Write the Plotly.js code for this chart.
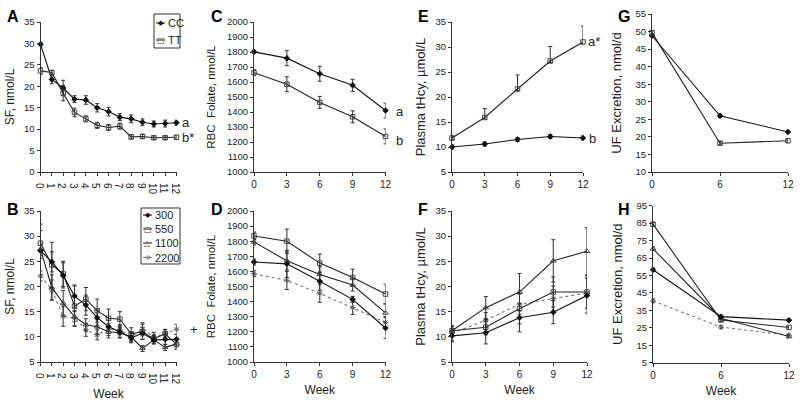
<!DOCTYPE html>
<html><head><meta charset="utf-8">
<script src="https://cdn.plot.ly/plotly-3.0.1.min.js"></script>
<style>html,body{margin:0;padding:0;background:#fff}#chart{width:800px;height:402px}</style>
</head><body><div id="chart"></div>
<script>
// ---------- data ----------
const weeksAB = [0,1,2,3,4,5,6,7,8,9,10,11,12];
const weeksCF = [0,3,6,9,12];
const weeksGH = [0,6,12];

// Panel A: SF by genotype
const A_CC = [29.8,21.6,19.6,17.0,16.8,15.0,14.1,12.8,12.4,11.6,11.2,11.3,11.5];
const A_CC_err = [0.5,1.0,1.8,0.8,1.0,1.0,1.0,0.8,0.9,0.8,0.7,0.8,0.6];
const A_TT = [23.6,23.2,18.4,13.9,12.4,10.9,10.4,10.7,8.2,8.3,8.0,8.0,8.1];
const A_TT_err = [0.8,0.5,1.8,1.0,0.7,0.7,0.7,0.7,0.5,0.5,0.4,0.4,0.4];

// Panel B: SF by dose
const B_300 = [27.1,24.9,22.2,18.1,16.3,13.8,12.0,11.0,9.8,10.7,9.4,9.5,9.5];
const B_300_err = [1.5,2.0,2.5,2.2,2.0,1.5,1.3,1.2,1.0,1.2,0.8,1.0,1.0];
const B_550 = [28.6,24.3,22.5,16.1,17.5,15.2,13.7,13.5,10.6,11.0,9.6,10.6,8.5];
const B_550_err = [2.5,4.5,2.5,4.0,2.3,2.3,1.8,1.5,1.2,1.5,0.8,0.8,1.0];
const B_1100 = [27.4,19.8,16.7,14.0,12.4,12.0,11.0,10.8,10.0,7.7,9.4,7.9,8.6];
const B_1100_err = [5.0,2.5,2.5,1.0,1.2,1.5,1.2,1.0,0.8,0.6,0.8,0.6,0.8];
const B_2200 = [22.1,19.3,14.1,13.7,11.4,10.4,11.5,11.4,10.0,11.5,10.0,10.6,11.5];
const B_2200_err = [1.0,2.0,2.0,1.5,1.3,1.0,1.2,1.0,1.0,1.3,0.9,0.9,1.0];

// Panel C: RBC folate by genotype
const C_CC = [1801,1759,1655,1578,1410];
const C_CC_err = [10,50,50,40,50];
const C_TT = [1662,1585,1464,1368,1237];
const C_TT_err = [20,50,40,40,50];

// Panel D: RBC folate by dose
const D_300 = [1662,1650,1535,1415,1225];
const D_300_err = [20,90,60,20,70];
const D_550 = [1835,1800,1655,1560,1450];
const D_550_err = [25,80,60,55,65];
const D_1100 = [1795,1670,1580,1510,1325];
const D_1100_err = [20,60,50,40,60];
const D_2200 = [1585,1540,1455,1360,1262];
const D_2200_err = [20,60,60,45,40];

// Panel E: plasma tHcy by genotype
const E_CC = [10.0,10.6,11.5,12.1,11.8];
const E_CC_err = [0.4,0.4,0.4,0.4,0.4];
const E_TT = [11.8,15.9,21.6,27.2,31.0];
const E_TT_errUp = [0.3,1.8,2.8,2.9,3.2];
const E_TT_errDown = [0.3,0.3,0.3,0.3,0.3];

// Panel F: plasma tHcy by dose
const F_300 = [10.2,10.8,13.8,14.9,18.2];
const F_300_err = [1.2,2.2,2.8,2.3,3.5];
const F_550 = [11.2,11.9,15.6,18.9,18.9];
const F_550_err = [1.0,1.5,3.0,3.0,3.3];
const F_1100 = [11.2,15.8,18.9,25.1,27.0];
const F_1100_err = [0.8,2.2,3.7,4.2,4.7];
const F_2200 = [10.7,13.3,16.5,17.6,18.7];
const F_2200_err = [1.5,1.5,2.0,2.5,3.0];

// Panel G: UF excretion by genotype
const G_CC = [48.8,26.0,21.4];
const G_TT = [49.7,18.2,18.9];
const G_err = [0.5,0.5,0.5];

// Panel H: UF excretion by dose
const H_300 = [58.3,31.4,29.4];
const H_550 = [84.4,29.5,25.2];
const H_1100 = [70.3,30.5,20.0];
const H_2200 = [40.4,25.4,20.8];
const H_err = [1.0,0.8,0.8];

const genoNames = ['CC','TT'];
const doseNames = ['300','550','1100','2200'];

// ---------- styles ----------
const FONT = 'Liberation Sans, Arial, sans-serif';
const styles = {
  filled: {marker:{symbol:'diamond', size:5, color:'#111', line:{width:0}}, line:{color:'#111', width:1.1, dash:'solid'}},
  square: {marker:{symbol:'square-open', size:4.5, color:'#444', line:{width:1, color:'#444'}}, line:{color:'#222', width:1.1, dash:'solid'}},
  tri:    {marker:{symbol:'triangle-up-open', size:5, color:'#444', line:{width:1, color:'#444'}}, line:{color:'#222', width:1.1, dash:'solid'}},
  ast:    {marker:{symbol:'asterisk-open', size:5, color:'#666', line:{width:1, color:'#666'}}, line:{color:'#777', width:1.1, dash:'dot'}}
};

function tr(x, y, errUp, errDown, st, idx, name){
  const s = styles[st];
  const err = {type:'data', symmetric: errDown==null, array: errUp, color:'#333', thickness:1, width:2};
  if (errDown != null) err.arrayminus = errDown;
  return {
    type:'scatter', mode:'lines+markers', x:x, y:y, name:name,
    xaxis: idx===1?'x':'x'+idx, yaxis: idx===1?'y':'y'+idx,
    marker: s.marker, line: s.line, error_y: err, cliponaxis:false, showlegend:false
  };
}

const data = [
  tr(weeksAB, A_CC, A_CC_err, null, 'filled', 1, genoNames[0]),
  tr(weeksAB, A_TT, A_TT_err, null, 'square', 1, genoNames[1]),
  tr(weeksAB, B_2200, B_2200_err, null, 'ast', 2, doseNames[3]),
  tr(weeksAB, B_1100, B_1100_err, null, 'tri', 2, doseNames[2]),
  tr(weeksAB, B_550, B_550_err, null, 'square', 2, doseNames[1]),
  tr(weeksAB, B_300, B_300_err, null, 'filled', 2, doseNames[0]),
  tr(weeksCF, C_CC, C_CC_err, null, 'filled', 3, genoNames[0]),
  tr(weeksCF, C_TT, C_TT_err, null, 'square', 3, genoNames[1]),
  tr(weeksCF, D_2200, D_2200_err, null, 'ast', 4, doseNames[3]),
  tr(weeksCF, D_1100, D_1100_err, null, 'tri', 4, doseNames[2]),
  tr(weeksCF, D_550, D_550_err, null, 'square', 4, doseNames[1]),
  tr(weeksCF, D_300, D_300_err, null, 'filled', 4, doseNames[0]),
  tr(weeksCF, E_CC, E_CC_err, null, 'filled', 5, genoNames[0]),
  tr(weeksCF, E_TT, E_TT_errUp, E_TT_errDown, 'square', 5, genoNames[1]),
  tr(weeksCF, F_2200, F_2200_err, null, 'ast', 6, doseNames[3]),
  tr(weeksCF, F_1100, F_1100_err, null, 'tri', 6, doseNames[2]),
  tr(weeksCF, F_550, F_550_err, null, 'square', 6, doseNames[1]),
  tr(weeksCF, F_300, F_300_err, null, 'filled', 6, doseNames[0]),
  tr(weeksGH, G_CC, G_err, null, 'filled', 7, genoNames[0]),
  tr(weeksGH, G_TT, G_err, null, 'square', 7, genoNames[1]),
  tr(weeksGH, H_2200, H_err, null, 'ast', 8, doseNames[3]),
  tr(weeksGH, H_1100, H_err, null, 'tri', 8, doseNames[2]),
  tr(weeksGH, H_550, H_err, null, 'square', 8, doseNames[1]),
  tr(weeksGH, H_300, H_err, null, 'filled', 8, doseNames[0])
];

// ---------- layout ----------
const W = 800, H = 402;
const px = v => v / W;
const py = v => 1 - v / H;

function xax(x0, x1, dtick, anchor, title){
  const a = {domain:[px(x0), px(x1)], range:[0,12], dtick:dtick, tick0:0, anchor:anchor,
    showline:true, linecolor:'#333', linewidth:1, ticks:'outside', ticklen:3, tickcolor:'#333',
    showgrid:false, zeroline:false, tickfont:{family:FONT, size:10, color:'#222'}, fixedrange:true};
  if (title) a.title = {text:title, font:{family:FONT, size:12, color:'#222'}, standoff:6};
  return a;
}
function yax(y0, y1, range, dtick, anchor, title, tsize, standoff){
  return {domain:[py(y1), py(y0)], range:range, dtick:dtick, tick0:range[0], anchor:anchor,
    showline:true, linecolor:'#333', linewidth:1, ticks:'outside', ticklen:3, tickcolor:'#333',
    showgrid:false, zeroline:false, tickfont:{family:FONT, size:9.5, color:'#222'}, fixedrange:true,
    title:{text:title, font:{family:FONT, size:tsize, color:'#222'}, standoff:standoff}};
}

const layout = {
  width:W, height:H, margin:{l:0,r:0,t:0,b:0}, paper_bgcolor:'#fff', plot_bgcolor:'#fff',
  showlegend:false, font:{family:FONT, color:'#222'},
  xaxis:  xax(40.5,176.5,1,'y'),
  yaxis:  yax(22,172,[0,35],5,'x','SF, nmol/L',12,6),
  xaxis2: xax(40.5,176.5,1,'y2','Week'),
  yaxis2: yax(211,362,[5,35],5,'x2','SF, nmol/L',12,6),
  xaxis3: xax(254,385.5,3,'y3'),
  yaxis3: yax(22,172,[1000,2000],100,'x3','RBC  Folate, nmol/L',11.5,8),
  xaxis4: xax(254,385.5,3,'y4','Week'),
  yaxis4: yax(211,362,[1000,2000],100,'x4','RBC  Folate, nmol/L',11.5,8),
  xaxis5: xax(452,583,3,'y5'),
  yaxis5: yax(22,172,[5,35],5,'x5','Plasma tHcy, µmol/L',13,6),
  xaxis6: xax(452,587,3,'y6','Week'),
  yaxis6: yax(211,362,[5,35],5,'x6','Plasma tHcy, µmol/L',13,6),
  xaxis7: xax(652,788,6,'y7'),
  yaxis7: yax(14,172,[10,55],5,'x7','UF Excretion, nmol/d',13,10),
  xaxis8: xax(653,789,6,'y8','Week'),
  yaxis8: yax(205.7,362.7,[5,95],10,'x8','UF Excretion, nmol/d',13,10),
  annotations: [], shapes: []
};

// panel letters
const letters = [['A',5,16],['B',5,209],['C',209,16],['D',209,209],['E',416,16],['F',416,209],['G',616,16],['H',616,209]];
letters.forEach(l => layout.annotations.push({xref:'paper', yref:'paper', x:px(l[1]), y:py(l[2]),
  xanchor:'left', yanchor:'middle', text:'<b>'+l[0]+'</b>', showarrow:false, font:{family:FONT, size:16, color:'#000'}}));

// significance labels
function lab(t, xa, ya, yv, xs){
  layout.annotations.push({xref:xa, yref:ya, x:12, y:yv, xanchor:'left', yanchor:'middle', xshift:xs,
    text:t, showarrow:false, font:{family:FONT, size:13, color:'#222'}});
}
const last = arr => arr[arr.length-1];
lab('a','x','y',last(A_CC),3);
lab('b*','x','y',last(A_TT),3);
lab('+','x2','y2',last(B_2200),11);
lab('a','x3','y3',last(C_CC)-10,8);
lab('b','x3','y3',last(C_TT)-30,8);
lab('a*','x5','y5',last(E_TT),3);
lab('b','x5','y5',last(E_CC),4);

// legends (drawn as guide shapes + text)
function legend(box, rows, names, sts){
  layout.shapes.push({type:'rect', xref:'paper', yref:'paper', x0:px(box[0]), x1:px(box[1]), y0:py(box[3]), y1:py(box[2]),
    line:{color:'#333', width:1}, fillcolor:'rgba(0,0,0,0)'});
  const glyph = {filled:'◆', square:'□', tri:'△', ast:'*'};
  const gsize = {filled:7, square:8, tri:8, ast:11};
  names.forEach((n,i) => {
    const st = styles[sts[i]];
    const yy = py(rows[i]);
    layout.shapes.push({type:'line', xref:'paper', yref:'paper', x0:px(box[0]+2), x1:px(box[0]+11), y0:yy, y1:yy,
      line:{color:st.line.color, width:1, dash: st.line.dash==='dot'?'dot':'solid'}});
    layout.annotations.push({xref:'paper', yref:'paper', x:px(box[0]+6.5), y:yy, xanchor:'center', yanchor:'middle',
      yshift: sts[i]==='ast' ? -2 : 0,
      text:glyph[sts[i]], showarrow:false, font:{family:'DejaVu Sans', size:gsize[sts[i]], color:st.marker.color}});
    layout.annotations.push({xref:'paper', yref:'paper', x:px(box[0]+12), y:yy, xanchor:'left', yanchor:'middle',
      text:n, showarrow:false, font:{family:FONT, size:11, color:'#222'}});
  });
}
legend([154,180,14,48],[23,40],genoNames,['filled','square']);
legend([141,180,208,264],[215,229,243,257.5],doseNames,['filled','square','tri','ast']);

Plotly.newPlot('chart', data, layout, {staticPlot:true, displayModeBar:false});
</script></body></html>
